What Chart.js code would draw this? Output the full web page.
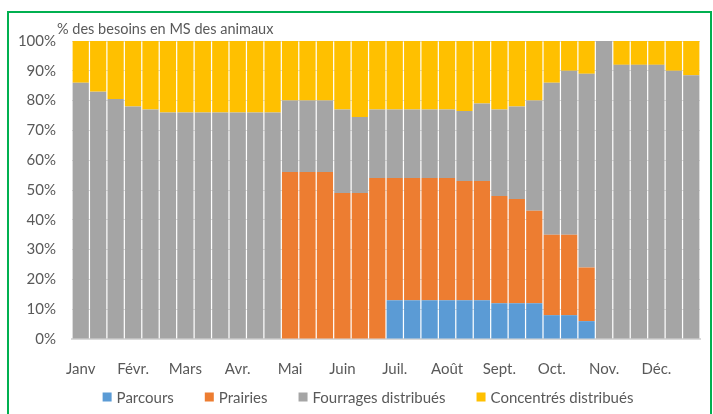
<!DOCTYPE html>
<html>
<head>
<meta charset="utf-8">
<script src="https://cdn.jsdelivr.net/npm/chart.js@4.4.1/dist/chart.umd.min.js"></script>
<style>
  html, body { margin: 0; padding: 0; background: #fff; }
  #wrap { position: relative; width: 713px; height: 414px; overflow: hidden; }
  #frame { position: absolute; left: 7px; top: 11px; width: 705px; height: 420px; border: 2px solid #00b050; box-sizing: border-box; }
  canvas { position: absolute; left: 0; top: 0; }
</style>
</head>
<body>
<div id="wrap">
  <div id="frame"></div>
  <canvas id="chart" width="713" height="414"></canvas>
</div>
<script>
// 3 bars per month, label on the first one
const categories = [
  "Janv", "", "", "Févr.", "", "", "Mars", "", "", "Avr.", "", "",
  "Mai", "", "", "Juin", "", "", "Juil.", "", "", "Août", "", "",
  "Sept.", "", "", "Oct.", "", "", "Nov.", "", "", "Déc.", "", ""
];

const parcours = [
  0, 0, 0, 0, 0, 0, 0, 0, 0, 0, 0, 0,
  0, 0, 0, 0, 0, 0, 13, 13, 13, 13, 13, 13,
  12, 12, 12, 8, 8, 6, 0, 0, 0, 0, 0, 0
];
const prairies = [
  0, 0, 0, 0, 0, 0, 0, 0, 0, 0, 0, 0,
  56, 56, 56, 49, 49, 54, 41, 41, 41, 41, 40, 40,
  36, 35, 31, 27, 27, 18, 0, 0, 0, 0, 0, 0
];
const fourrages = [
  86, 83, 80.5, 78, 77, 76, 76, 76, 76, 76, 76, 76,
  24, 24, 24, 28, 25.5, 23, 23, 23, 23, 23, 23.5, 26,
  29, 31, 37, 51, 55, 65, 100, 92, 92, 92, 90, 88.5
];
const concentres = [
  14, 17, 19.5, 22, 23, 24, 24, 24, 24, 24, 24, 24,
  20, 20, 20, 23, 25.5, 23, 23, 23, 23, 23, 23.5, 21,
  23, 22, 20, 14, 10, 11, 0, 8, 8, 8, 10, 11.5
];

const titleText = "% des besoins en MS des animaux";
const textColor = "#595959";
const fontFamily = "Lato, 'Liberation Sans', sans-serif";

const topTitle = {
  id: "topTitle",
  afterDraw(chart) {
    const ctx = chart.ctx;
    ctx.save();
    ctx.font = "14.5px " + fontFamily;
    ctx.fillStyle = textColor;
    ctx.textBaseline = "middle";
    ctx.fillText(titleText, 57, 29);
    ctx.restore();
  }
};

// legend drawn by hand so the item spacing can match the original
const bottomLegend = {
  id: "bottomLegend",
  afterDraw(chart) {
    const ctx = chart.ctx;
    const sets = chart.data.datasets;
    const box = 9, gapText = 5, gapItem = 31, y = 397;
    ctx.save();
    ctx.font = "15px " + fontFamily;
    ctx.textBaseline = "middle";
    const widths = sets.map(d => box + gapText + ctx.measureText(d.label).width);
    const total = widths.reduce((a, b) => a + b, 0) + gapItem * (sets.length - 1);
    let x = 368 - total / 2;
    sets.forEach((d, i) => {
      ctx.fillStyle = d.backgroundColor;
      ctx.fillRect(x, y - box / 2, box, box);
      ctx.fillStyle = textColor;
      ctx.fillText(d.label, x + box + gapText, y + 1);
      x += widths[i] + gapItem;
    });
    ctx.restore();
  }
};

const ctx = document.getElementById("chart").getContext("2d");
new Chart(ctx, {
  type: "bar",
  data: {
    labels: categories,
    datasets: [
      { label: "Parcours", data: parcours, backgroundColor: "#5b9bd5" },
      { label: "Prairies", data: prairies, backgroundColor: "#ed7d31" },
      { label: "Fourrages distribués", data: fourrages, backgroundColor: "#a5a5a5" },
      { label: "Concentrés distribués", data: concentres, backgroundColor: "#ffc000" }
    ]
  },
  options: {
    responsive: false,
    animation: false,
    datasets: { bar: { barPercentage: 1, categoryPercentage: 0.93 } },
    layout: { padding: { top: 41, right: 13, left: 0, bottom: 34 } },
    scales: {
      x: {
        stacked: true,
        grid: { display: false },
        border: { color: "#d9d9d9", width: 2 },
        ticks: {
          autoSkip: false, maxRotation: 0, padding: 13,
          color: textColor, font: { size: 15, family: fontFamily }
        },
        afterFit(scale) { scale.height = 41; }
      },
      y: {
        stacked: true,
        min: 0, max: 100,
        grid: { color: "#d9d9d9", drawTicks: false },
        border: { display: false },
        ticks: {
          stepSize: 10, padding: 16,
          callback: v => v + "%",
          color: textColor, font: { size: 15, family: fontFamily }
        },
        afterFit(scale) { scale.width = 72; }
      }
    },
    plugins: {
      legend: { display: false },
      tooltip: { enabled: false }
    }
  },
  plugins: [topTitle, bottomLegend]
});
</script>
</body>
</html>
